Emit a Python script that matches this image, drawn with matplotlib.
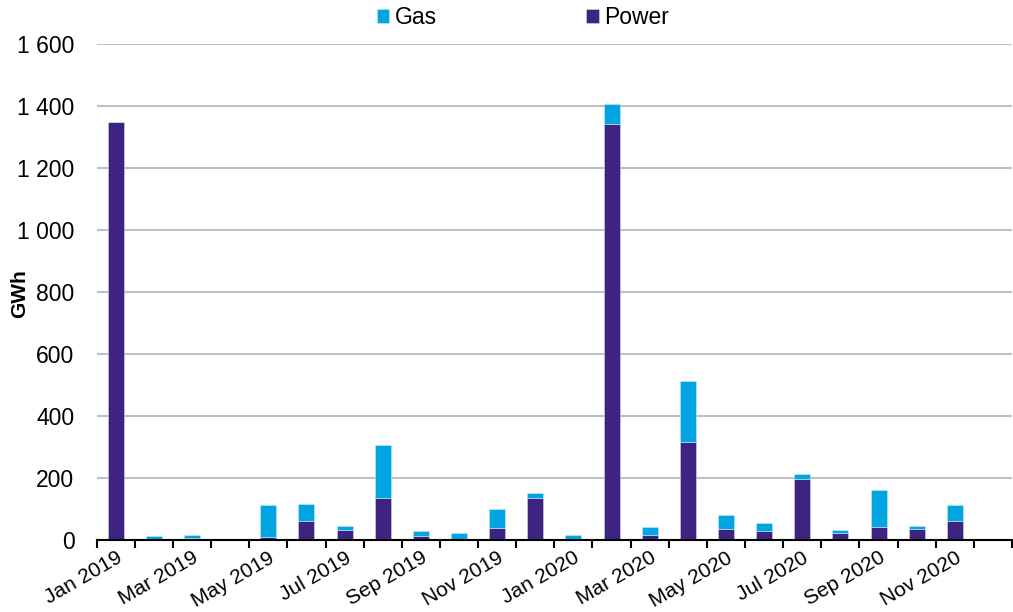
import matplotlib
matplotlib.use("Agg")
import matplotlib.pyplot as plt
import numpy as np
from matplotlib.ticker import FuncFormatter

months = ["Jan 2019", "Feb 2019", "Mar 2019", "Apr 2019", "May 2019", "Jun 2019",
          "Jul 2019", "Aug 2019", "Sep 2019", "Oct 2019", "Nov 2019", "Dec 2019",
          "Jan 2020", "Feb 2020", "Mar 2020", "Apr 2020", "May 2020", "Jun 2020",
          "Jul 2020", "Aug 2020", "Sep 2020", "Oct 2020", "Nov 2020", "Dec 2020"]
power = [1347, 2, 5, 0, 10, 61, 32, 135, 14, 3, 38, 137,
         1, 1342, 17, 316, 37, 29, 197, 24, 41, 35, 61, 0]
totals = [1347, 13, 16, 2, 114, 117, 46, 306, 28, 23, 101, 153,
          15, 1408, 42, 512, 81, 56, 214, 31, 160, 44, 114, 0]
gas = [t - p for t, p in zip(totals, power)]

gas_color = "#00A5E1"
power_color = "#3C2480"
fs = 16.5

plt.rcParams['font.family'] = ['Liberation Sans', 'DejaVu Sans']

fig = plt.figure(figsize=(10.13, 6.12), dpi=100)
ax = fig.add_axes([96.7 / 1013, (612 - 540) / 612, (1012 - 96.7) / 1013, (540 - 44) / 612])

x = np.arange(len(months))
w = 0.42
ax.bar(x, power, width=w, color=power_color, edgecolor="#d8d0ec", linewidth=0.4,
       label="Power", zorder=3)
ax.bar(x, gas, width=w, bottom=power, color=gas_color, edgecolor="#c8ecfa",
       linewidth=0.4, label="Gas", zorder=3)

ax.set_xlim(-0.5, len(months) - 0.5)
ax.set_ylim(0, 1600)
ax.set_yticks(np.arange(0, 1601, 200))
ax.yaxis.set_major_formatter(FuncFormatter(lambda v, p: f"{int(v):,}".replace(",", " ")))
ax.yaxis.grid(True, color="#c0c0c0", linewidth=1.5, zorder=0)
ax.set_axisbelow(True)

for s in ["top", "right", "left"]:
    ax.spines[s].set_visible(False)
ax.spines["bottom"].set_color("black")
ax.spines["bottom"].set_linewidth(1.5)
ax.spines["bottom"].set_zorder(4)

ax.tick_params(axis="y", length=0, pad=16, labelsize=fs)

# category boundary ticks
ax.set_xticks(np.arange(-0.5, len(months), 1.0), minor=True)
ax.tick_params(axis="x", which="minor", length=6, width=1.5, color="black", direction="out")
ax.set_xticks(x[::2])
ax.set_xticklabels(months[::2], rotation=30, ha="right", rotation_mode="anchor",
                   fontsize=15)
ax.tick_params(axis="x", which="major", length=0, pad=6)

ax.set_ylabel("GWh", fontsize=15, fontweight="bold")
ax.yaxis.set_label_coords(-0.074, 0.496)

handles, labels = ax.get_legend_handles_labels()
order = [1, 0]
leg = fig.legend([handles[i] for i in order], [labels[i] for i in order],
                 loc="center", bbox_to_anchor=(523 / 1013, 1 - 18 / 612), ncol=2,
                 frameon=False, fontsize=fs, handlelength=0.55, handleheight=0.55,
                 handletextpad=0.25, columnspacing=6.5)

fig.savefig("out.png", dpi=100)
